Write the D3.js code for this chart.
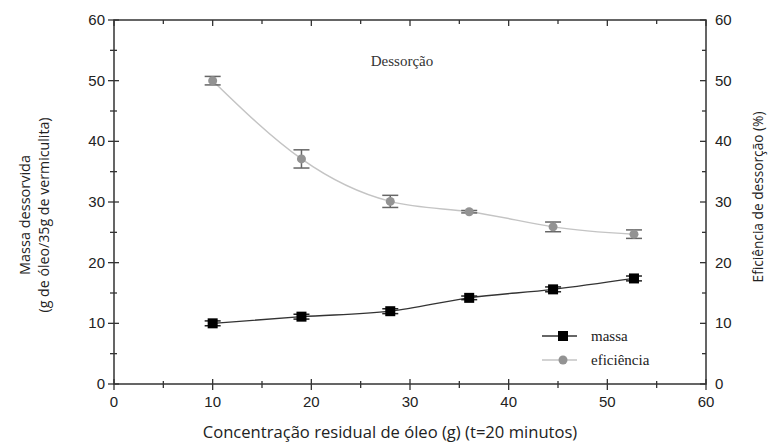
<!DOCTYPE html>
<html><head><meta charset="utf-8">
<script src="https://cdn.jsdelivr.net/npm/d3@7"></script>
<style>body{margin:0;background:#fff}svg{display:block}</style>
</head><body>
<svg id="c" width="771" height="443"></svg>
<script>
const xValues = [10, 19, 28, 36, 44.5, 52.7];
const massa = [10.0, 11.1, 12.0, 14.2, 15.6, 17.4];
const massaErr = [0.4, 0.4, 0.4, 0.3, 0.4, 0.4];
const eficiencia = [50.0, 37.1, 30.1, 28.4, 25.9, 24.7];
const eficienciaErr = [0.7, 1.5, 1.0, 0.2, 0.8, 0.7];
const xTicks = [0, 10, 20, 30, 40, 50, 60];
const yTicks = [0, 10, 20, 30, 40, 50, 60];
const seriesNames = ["massa", "eficiência"];

const svg = d3.select("#c");
const L = 114, R = 706, T = 20, B = 384;
const x = d3.scaleLinear().domain([0, 60]).range([L, R]);
const yL = d3.scaleLinear().domain([0, 60]).range([B, T]);
const yR = d3.scaleLinear().domain([0, 60]).range([B, T]);
const axisColor = "#333";
const tickFont = "Liberation Sans, Arial, sans-serif";
const labFont = "'Open Sans', sans-serif";

svg.append("rect").attr("x", L).attr("y", T).attr("width", R - L).attr("height", B - T)
  .attr("fill", "none").attr("stroke", axisColor).attr("stroke-width", 1.5);

const minor = d3.range(5, 60, 10);
const g = svg.append("g").attr("stroke", axisColor).attr("stroke-width", 1.3);
xTicks.forEach(v => g.append("line").attr("x1", x(v)).attr("x2", x(v)).attr("y1", B - 5).attr("y2", B + 6));
minor.forEach(v => g.append("line").attr("x1", x(v)).attr("x2", x(v)).attr("y1", B - 3).attr("y2", B + 4));
xTicks.forEach(v => g.append("line").attr("x1", x(v)).attr("x2", x(v)).attr("y1", T).attr("y2", T + 6));
minor.forEach(v => g.append("line").attr("x1", x(v)).attr("x2", x(v)).attr("y1", T).attr("y2", T + 4));
yTicks.forEach(v => g.append("line").attr("x1", L - 6).attr("x2", L + 5).attr("y1", yL(v)).attr("y2", yL(v)));
minor.forEach(v => g.append("line").attr("x1", L - 4).attr("x2", L + 3).attr("y1", yL(v)).attr("y2", yL(v)));
yTicks.forEach(v => g.append("line").attr("x1", R - 6).attr("x2", R).attr("y1", yR(v)).attr("y2", yR(v)));
minor.forEach(v => g.append("line").attr("x1", R - 4).attr("x2", R).attr("y1", yR(v)).attr("y2", yR(v)));

const tl = svg.append("g").attr("font-family", tickFont).attr("font-size", 15).attr("fill", "#222");
xTicks.forEach(v => tl.append("text").attr("x", x(v)).attr("y", B + 23).attr("text-anchor", "middle").text(v));
yTicks.forEach(v => tl.append("text").attr("x", L - 9).attr("y", yL(v) + 5).attr("text-anchor", "end").text(v));
yTicks.forEach(v => tl.append("text").attr("x", R + 9).attr("y", yR(v) + 5).attr("text-anchor", "start").text(v));

svg.append("text").attr("x", 390).attr("y", 438).attr("text-anchor", "middle")
  .attr("font-family", labFont).attr("font-size", 16.6).attr("fill", "#222")
  .text("Concentração residual de óleo (g) (t=20 minutos)");
svg.append("text").attr("transform", `translate(30,215) rotate(-90)`).attr("text-anchor", "middle")
  .attr("font-family", labFont).attr("font-size", 14.5).attr("fill", "#222").text("Massa dessorvida");
svg.append("text").attr("transform", `translate(49,215) rotate(-90)`).attr("text-anchor", "middle")
  .attr("font-family", labFont).attr("font-size", 14.2).attr("fill", "#222").text("(g de óleo/35g de vermiculita)");
svg.append("text").attr("transform", `translate(763,197) rotate(-90)`).attr("text-anchor", "middle")
  .attr("font-family", labFont).attr("font-size", 13.7).attr("fill", "#222").text("Eficiência de dessorção (%)");

svg.append("text").attr("x", 402).attr("y", 66).attr("text-anchor", "middle")
  .attr("font-family", "'Liberation Serif', 'Times New Roman', serif").attr("font-size", 15).attr("fill", "#333")
  .text("Dessorção");

const effColor = "#939393", effLine = "#c4c4c4", massColor = "#000";
const dEff = xValues.map((v, i) => [v, eficiencia[i], eficienciaErr[i]]);
const dMas = xValues.map((v, i) => [v, massa[i], massaErr[i]]);

const lineE = d3.line().x(d => x(d[0])).y(d => yR(d[1])).curve(d3.curveNatural);
const lineM = d3.line().x(d => x(d[0])).y(d => yL(d[1])).curve(d3.curveMonotoneX);
svg.append("path").attr("d", lineE(dEff)).attr("fill", "none").attr("stroke", effLine).attr("stroke-width", 1.5);
svg.append("path").attr("d", lineM(dMas)).attr("fill", "none").attr("stroke", "#333").attr("stroke-width", 1.3);

function errBars(data, ys, color) {
  const eg = svg.append("g").attr("stroke", color).attr("stroke-width", 1.5);
  data.forEach(d => {
    const x0 = x(d[0]), y1 = ys(d[1] + d[2]), y2 = ys(d[1] - d[2]);
    eg.append("line").attr("x1", x0).attr("x2", x0).attr("y1", y1).attr("y2", y2);
    eg.append("line").attr("x1", x0 - 8).attr("x2", x0 + 8).attr("y1", y1).attr("y2", y1);
    eg.append("line").attr("x1", x0 - 8).attr("x2", x0 + 8).attr("y1", y2).attr("y2", y2);
  });
}
errBars(dEff, yR, "#666");
errBars(dMas, yL, "#222");

svg.append("g").selectAll("circle").data(dEff).join("circle")
  .attr("cx", d => x(d[0])).attr("cy", d => yR(d[1])).attr("r", 4.5).attr("fill", effColor);
svg.append("g").selectAll("rect").data(dMas).join("rect")
  .attr("x", d => x(d[0]) - 5).attr("y", d => yL(d[1]) - 5).attr("width", 10).attr("height", 10).attr("fill", massColor);

const lg = svg.append("g");
const legY = [336, 360];
lg.append("line").attr("x1", 542).attr("x2", 577).attr("y1", legY[0]).attr("y2", legY[0]).attr("stroke", "#333").attr("stroke-width", 1.3);
lg.append("rect").attr("x", 558).attr("y", legY[0] - 5).attr("width", 10).attr("height", 10).attr("fill", massColor);
lg.append("line").attr("x1", 542).attr("x2", 577).attr("y1", legY[1]).attr("y2", legY[1]).attr("stroke", effLine).attr("stroke-width", 1.5);
lg.append("circle").attr("cx", 563).attr("cy", legY[1]).attr("r", 4.5).attr("fill", effColor);
seriesNames.forEach((n, i) => lg.append("text").attr("x", 591).attr("y", legY[i] + 5)
  .attr("font-family", "'Liberation Serif', 'Times New Roman', serif").attr("font-size", 15).attr("fill", "#222").text(n));
</script>
</body></html>
